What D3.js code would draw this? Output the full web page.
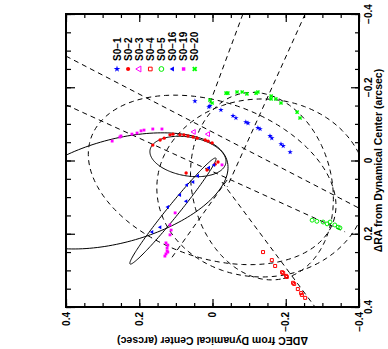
<!DOCTYPE html>
<html><head><meta charset="utf-8">
<script src="https://cdn.jsdelivr.net/npm/d3@7"></script>
<style>body{margin:0;background:#fff}text{font-family:"Liberation Sans",Arial,sans-serif;font-weight:bold}</style>
</head><body><svg id="c" width="388" height="349"></svg>
<script>
// ---- data (arcsec) ----
const decTicks=[0.4,0.2,0,-0.2,-0.4];
const raTicks=[-0.4,-0.2,0,0.2,0.4];
const starNames=["S0\u22121","S0\u22122","S0\u22123","S0\u22124","S0\u22125","S0\u221216","S0\u221219","S0\u221220"];
const s01=[[0.048,-0.162],[0.010,-0.146],[0.007,-0.149],[-0.023,-0.138],[-0.056,-0.122],[-0.064,-0.116],[-0.091,-0.105],[-0.097,-0.102],[-0.124,-0.089],[-0.130,-0.086],[-0.157,-0.067],[-0.162,-0.061],[-0.187,-0.045],[-0.193,-0.040],[-0.212,-0.023]];
const s02=[[0.163,-0.042],[0.143,-0.056],[0.132,-0.061],[0.116,-0.070],[0.108,-0.072],[0.089,-0.070],[0.078,-0.070],[0.067,-0.067],[0.053,-0.064],[0.042,-0.061],[0.020,-0.056],[0.012,-0.053],[0.001,-0.048],[-0.015,0.004],[-0.007,0.010],[0.015,0.026],[0.072,0.034]];
const s03=[[0.051,-0.078],[0.012,-0.072]];
const s04=[[-0.138,0.250],[-0.162,0.272],[-0.171,0.288],[-0.190,0.305],[-0.193,0.307],[-0.201,0.315],[-0.203,0.318],[-0.220,0.334],[-0.223,0.337],[-0.233,0.351],[-0.242,0.362],[-0.244,0.367],[-0.253,0.375]];
const s05=[[-0.272,0.163],[-0.285,0.166],[-0.302,0.168],[-0.313,0.173],[-0.321,0.168],[-0.334,0.176],[-0.343,0.182],[-0.348,0.184]];
const s016=[[-0.004,0.012],[0.010,0.020],[0.040,0.042],[0.053,0.059],[0.070,0.067],[0.089,0.094],[0.072,0.111],[0.122,0.127],[0.143,0.182],[0.165,0.195]];
const s019=[[0.274,-0.053],[0.253,-0.064],[0.250,-0.067],[0.220,-0.072],[0.206,-0.075],[0.195,-0.081],[0.187,-0.083],[0.163,-0.086],[0.138,-0.086],[-0.026,0.012],
  [0.102,0.143],[0.116,0.176],[0.113,0.190],[0.116,0.203],[0.127,0.225],[0.122,0.231],[0.124,0.239],[0.124,0.247],[0.122,0.250],[0.127,0.255],[0.130,0.261]];
const s020=[[0.007,-0.165],[0.001,-0.157],[-0.037,-0.184],[-0.042,-0.184],[-0.067,-0.187],[-0.081,-0.187],[-0.094,-0.182],[-0.119,-0.184],[-0.124,-0.187],[-0.160,-0.176],[-0.160,-0.168],[-0.173,-0.168],[-0.187,-0.157],[-0.231,-0.132],[-0.239,-0.116]];
// orbits: centre (dec, ra), semi-axes a, b, angle (deg)
const solidOrbits=[
  {cx:0.067,cy:-0.011,a:0.105,b:0.053,ang:170.3},
  {cx:0.108,cy:0.138,a:0.186,b:0.016,ang:231},
  {cx:0.258,cy:0.083,a:0.309,b:0.141,ang:195.3}];
const dashedOrbits=[
  {cx:-0.135,cy:0.070,a:0.259,b:0.191,ang:103},
  {cx:0.001,cy:0.053,a:0.350,b:0.213,ang:161},
  {cx:-0.135,cy:0.075,a:0.287,b:0.243,ang:180}];
// straight tracks: [dec1, ra1, dec2, ra2]
const dashedLines=[[0.4,-0.285,-0.4,0.130],[0.4,-0.152,-0.362,0.195],[-0.083,-0.4,0.007,-0.157],[-0.253,-0.4,-0.040,0.072],[-0.026,0.059,-0.280,0.4],[-0.040,0.053,0.116,0.272]];

// ---- drawing ----
const svg=d3.select("#c");
const L=66,R=359,T=14,B=307;
const x=d3.scaleLinear().domain([0.4,-0.4]).range([L,R]);
const y=d3.scaleLinear().domain([-0.4,0.4]).range([T,B]);
svg.append("clipPath").attr("id","clip").append("rect").attr("x",L).attr("y",T).attr("width",R-L).attr("height",B-T);
const g=svg.append("g").attr("clip-path","url(#clip)");
const line=d3.line();
function ell(o){
  const th=o.ang*Math.PI/180;
  return d3.range(0,362,2).map(t=>{const r=t*Math.PI/180;
    const d=o.cx+o.a*Math.cos(r)*Math.cos(th)-o.b*Math.sin(r)*Math.sin(th);
    const a=o.cy+o.a*Math.cos(r)*Math.sin(th)+o.b*Math.sin(r)*Math.cos(th);
    return [x(d),y(a)];});
}
dashedOrbits.forEach(o=>g.append("path").attr("d",line(ell(o))).attr("fill","none").attr("stroke","#000").attr("stroke-width",1).attr("stroke-dasharray","5,4"));
dashedLines.forEach(l=>g.append("path").attr("d",line([[x(l[0]),y(l[1])],[x(l[2]),y(l[3])]])).attr("fill","none").attr("stroke","#000").attr("stroke-width",1).attr("stroke-dasharray","5,4"));
solidOrbits.forEach(o=>g.append("path").attr("d",line(ell(o))).attr("fill","none").attr("stroke","#000").attr("stroke-width",1));

const styles=[
  {type:d3.symbolStar,size:9,fill:"#0000ff",stroke:"none",rot:0},
  {type:d3.symbolCircle,size:9,fill:"#ff0000",stroke:"none",rot:0},
  {type:d3.symbolTriangle,size:10,fill:"none",stroke:"#ff00ff",rot:-90},
  {type:d3.symbolSquare,size:9,fill:"none",stroke:"#ff0000",rot:0},
  {type:d3.symbolCircle,size:12,fill:"none",stroke:"#00ee00",rot:0},
  {type:d3.symbolTriangle,size:7,fill:"#0000ff",stroke:"none",rot:-90},
  {type:d3.symbolSquare,size:8,fill:"#ff00ff",stroke:"none",rot:0},
  {type:d3.symbolCross,size:11,fill:"#00ff00",stroke:"none",rot:45}];
const sets=[s01,s02,s03,s04,s05,s016,s019,s020];
function mark(sel,st,px,py,k){
  sel.append("path").attr("d",d3.symbol().type(st.type).size(st.size*(k||1))())
    .attr("transform",`translate(${px},${py}) rotate(${st.rot})`)
    .attr("fill",st.fill).attr("stroke",st.stroke).attr("stroke-width",1);
}
sets.forEach((s,i)=>s.forEach(p=>mark(g,styles[i],x(p[0]),y(p[1]))));

// legend
starNames.forEach((n,i)=>{
  const lx=117+i*11.1;
  svg.append("text").attr("transform",`translate(${lx+3.5},61) rotate(-90)`).attr("font-size",10).text(n);
  mark(svg,styles[i],lx,69,1.5);
});

// axes
function ax(gen,tr,vals,size){return svg.append("g").attr("transform",tr).call(gen.tickValues(vals).tickSize(size).tickFormat(""));}
const minor=d3.range(-0.4,0.4001,0.05);
ax(d3.axisBottom(x),`translate(0,${B})`,minor,-4);
ax(d3.axisBottom(x),`translate(0,${B})`,decTicks,-8);
ax(d3.axisTop(x),`translate(0,${T})`,minor,-4);
ax(d3.axisTop(x),`translate(0,${T})`,decTicks,-8);
ax(d3.axisLeft(y),`translate(${L},0)`,minor,-5);
ax(d3.axisLeft(y),`translate(${L},0)`,raTicks,-9);
ax(d3.axisRight(y),`translate(${R},0)`,minor,-4);
ax(d3.axisRight(y),`translate(${R},0)`,raTicks,-8);
svg.selectAll(".domain").remove();
svg.selectAll(".tick line").attr("stroke","#000").attr("stroke-width",1.2);
svg.append("rect").attr("x",L).attr("y",T).attr("width",R-L).attr("height",B-T).attr("fill","none").attr("stroke","#000").attr("stroke-width",2);
const fmt=d3.format("");
decTicks.forEach(v=>svg.append("text").attr("transform",`translate(${x(v)+3.5},312) rotate(-90)`).attr("text-anchor","end").attr("font-size",10).text(v===0?"0":fmt(v)));
raTicks.forEach(v=>svg.append("text").attr("transform",`translate(${371.5},${y(v)}) rotate(-90)`).attr("text-anchor","middle").attr("font-size",10).text(v===0?"0":fmt(v)));
svg.append("text").attr("transform",`translate(${382},${y(0)}) rotate(-90)`).attr("text-anchor","middle").attr("font-size",10.5).text("\u0394RA from Dynamical Center (arcsec)");
svg.append("text").attr("transform",`translate(${x(0)},${337}) rotate(180)`).attr("text-anchor","middle").attr("font-size",10.5).text("\u0394DEC from Dynamical Center (arcsec)");
</script></body></html>
